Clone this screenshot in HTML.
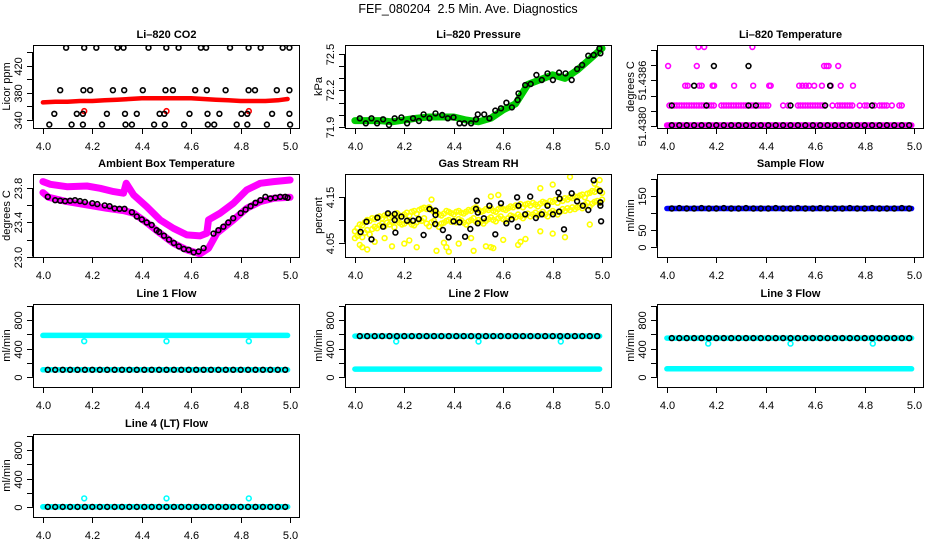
<!DOCTYPE html>
<html><head><meta charset="utf-8"><title>FEF_080204 Diagnostics</title>
<style>
html,body{margin:0;padding:0;background:#fff;}
svg{display:block;font-family:"Liberation Sans",Arial,sans-serif;}
</style></head>
<body>
<svg id="chart" width="936" height="540" viewBox="0 0 936 540" xmlns="http://www.w3.org/2000/svg">
<text x="468" y="13" text-anchor="middle" font-size="12.5">FEF_080204&#160; 2.5 Min. Ave. Diagnostics</text>
</svg>
<script>
// ---------- shared time categories ----------
var tCirc = [4.02,4.05,4.08,4.11,4.14,4.17,4.20,4.23,4.26,4.29,4.32,4.35,4.38,4.41,4.44,4.47,4.50,4.53,4.56,4.59,4.62,4.65,4.68,4.71,4.74,4.77,4.80,4.83,4.86,4.89,4.92,4.95,4.98];
var tBand = [4.00,4.99];
var tRH = [4.00,4.01,4.02,4.03,4.04,4.05,4.06,4.07,4.08,4.09,4.10,4.11,4.12,4.13,4.14,4.15,4.16,4.17,4.18,4.19,4.20,4.21,4.22,4.23,4.24,4.25,4.26,4.27,4.28,4.29,4.30,4.31,4.32,4.33,4.34,4.35,4.36,4.37,4.38,4.39,4.40,4.41,4.42,4.43,4.44,4.45,4.46,4.47,4.48,4.49,4.50,4.51,4.52,4.53,4.54,4.55,4.56,4.57,4.58,4.59,4.60,4.61,4.62,4.63,4.64,4.65,4.66,4.67,4.68,4.69,4.70,4.71,4.72,4.73,4.74,4.75,4.76,4.77,4.78,4.79,4.80,4.81,4.82,4.83,4.84,4.85,4.86,4.87,4.88,4.89,4.90,4.91,4.92,4.93,4.94,4.95,4.96,4.97,4.98,4.99,5.00];
var xTicks = [4.0,4.2,4.4,4.6,4.8,5.0];
var xTickLabels = ["4.0","4.2","4.4","4.6","4.8","5.0"];

// ---------- CO2 ----------
var co2RedX = [4.00,4.05,4.10,4.15,4.20,4.25,4.30,4.35,4.40,4.45,4.50,4.55,4.60,4.65,4.70,4.75,4.80,4.85,4.90,4.95,4.99];
var co2RedY = [366,367,367,368,368,369,370,371,372,372,372,372,372,371,370,369,368,368,368,369,371];
var co2RedOutX = [4.167,4.50,4.833];
var co2RedOutY = [353,353,353];
var co2BlackX = [4.094,4.167,4.216,4.302,4.326,4.427,4.499,4.549,4.639,4.660,4.757,4.832,4.881,4.970,4.997,
  4.070,4.164,4.191,4.283,4.329,4.404,4.496,4.526,4.616,4.663,4.739,4.832,4.858,4.946,4.997,
  4.046,4.137,4.162,4.259,4.332,4.380,4.472,4.491,4.593,4.666,4.714,4.803,4.827,4.927,4.997,
  4.026,4.116,4.162,4.239,4.334,4.360,4.450,4.493,4.571,4.667,4.693,4.784,4.827,4.906,5.000];
var co2BlackY = [447,447,447,447,447,447,447,447,447,447,447,447,447,447,447,
  384,384,384,384,384,384,384,384,384,384,384,384,384,384,384,
  349,349,349,349,349,349,349,349,349,349,349,349,349,349,349,
  333,333,333,333,333,333,333,333,333,333,333,333,333,333,333];

// ---------- Pressure ----------
var presGreenX = [4.00,4.05,4.10,4.15,4.20,4.25,4.30,4.35,4.40,4.45,4.50,4.55,4.60,4.65,4.70,4.75,4.80,4.85,4.90,4.95,5.00];
var presGreenY = [71.95,71.95,71.95,71.94,71.955,71.97,71.98,71.98,71.98,71.955,71.94,71.97,72.04,72.09,72.25,72.29,72.33,72.30,72.37,72.46,72.55];
var presBlackX = [4.020,4.044,4.067,4.090,4.114,4.138,4.161,4.188,4.211,4.235,4.259,4.278,4.302,4.326,4.353,4.376,4.399,4.423,4.443,4.470,4.490,4.497,4.523,4.544,4.568,4.591,4.613,4.635,4.658,4.662,4.689,4.711,4.734,4.756,4.779,4.801,4.826,4.852,4.877,4.899,4.919,4.944,4.966,4.989,4.993];
var presBlackY = [71.969,71.928,71.969,71.928,71.961,71.914,71.969,71.977,71.928,71.969,71.947,72.002,71.969,72.010,71.997,71.969,71.977,71.928,71.928,71.928,71.961,72.002,72.002,71.969,72.033,72.052,72.099,72.060,72.121,72.176,72.245,72.254,72.328,72.287,72.342,72.287,72.348,72.342,72.287,72.378,72.411,72.488,72.494,72.549,72.508];

// ---------- Li-820 Temperature ----------
var tempLevels = [51.43801,51.43827,51.43853,51.43879,51.43904];
var tempMagL1X = [4.01,4.02,4.03,4.04,4.05,4.06,4.07,4.08,4.09,4.10,4.11,4.12,4.13,4.14,4.15,4.16,4.17,4.18,4.19,4.22,4.23,4.24,4.25,4.26,4.27,4.28,4.29,4.30,4.31,4.32,4.33,4.34,4.35,4.36,4.37,4.38,4.39,4.40,4.41,4.47,4.49,4.53,4.54,4.55,4.56,4.57,4.58,4.59,4.60,4.61,4.62,4.63,4.64,4.67,4.69,4.70,4.71,4.72,4.73,4.74,4.75,4.78,4.80,4.81,4.83,4.84,4.86,4.87,4.88,4.89,4.91,4.94,4.95];
var tempMagL2X = [4.074,4.084,4.131,4.141,4.185,4.191,4.272,4.349,4.414,4.420,4.535,4.548,4.562,4.575,4.596,4.627,4.663,4.703,4.753];
var tempMagL3X = [4.005,4.121,4.636,4.646,4.654,4.693];
var tempMagL4X = [4.128,4.151,4.346];
var tempBlkL1X = [4.02,4.16,4.33,4.36,4.50,4.64,4.83];
var tempBlkL2X = [4.11,4.66];
var tempBlkL3X = [4.19,4.33];

// ---------- Ambient Box Temperature ----------
var ambUpX = [4.0,4.03,4.097,4.178,4.232,4.286,4.326,4.337,4.367,4.420,4.474,4.528,4.582,4.636,4.663,4.670,4.717,4.771,4.825,4.879,4.933,5.0];
var ambUpY = [23.878,23.847,23.819,23.827,23.80,23.761,23.742,23.858,23.722,23.586,23.430,23.332,23.254,23.243,23.274,23.430,23.508,23.625,23.781,23.858,23.878,23.897];
var ambLoX = [4.0,4.023,4.097,4.178,4.259,4.326,4.367,4.420,4.474,4.528,4.582,4.636,4.670,4.704,4.771,4.825,4.879,4.933,5.0];
var ambLoY = [23.749,23.695,23.644,23.605,23.566,23.539,23.508,23.398,23.274,23.157,23.079,23.032,23.098,23.274,23.430,23.566,23.644,23.683,23.695];
var ambBlkX = [4.02,4.05,4.07,4.09,4.11,4.13,4.15,4.17,4.20,4.22,4.25,4.27,4.29,4.31,4.33,4.36,4.38,4.40,4.42,4.44,4.46,4.47,4.49,4.51,4.53,4.55,4.57,4.59,4.61,4.63,4.65,4.69,4.71,4.73,4.75,4.77,4.80,4.82,4.84,4.86,4.88,4.90,4.92,4.94,4.96,4.98,4.99];
var ambBlkY = [23.70,23.66,23.655,23.65,23.655,23.66,23.65,23.64,23.625,23.615,23.60,23.59,23.565,23.56,23.56,23.52,23.47,23.435,23.40,23.37,23.31,23.29,23.245,23.20,23.16,23.12,23.09,23.08,23.05,23.06,23.10,23.27,23.31,23.35,23.40,23.45,23.51,23.55,23.59,23.63,23.66,23.70,23.68,23.69,23.70,23.70,23.69];

// ---------- Gas Stream RH ----------
var rhYellowA = [4.075,4.082,4.090,4.088,4.095,4.100,4.098,4.104,4.102,4.106,4.108,4.104,4.110,4.112,4.106,4.109,4.112,4.115,4.110,4.108,4.112,4.116,4.110,4.118,4.120,4.114,4.122,4.125,4.127,4.124,4.128,4.122,4.118,4.116,4.112,4.110,4.114,4.120,4.118,4.115,4.112,4.118,4.120,4.116,4.114,4.118,4.122,4.120,4.125,4.128,4.122,4.118,4.120,4.124,4.122,4.126,4.120,4.118,4.124,4.128,4.124,4.122,4.126,4.130,4.128,4.132,4.130,4.135,4.128,4.134,4.136,4.132,4.138,4.134,4.130,4.136,4.140,4.138,4.134,4.142,4.140,4.144,4.138,4.146,4.142,4.148,4.145,4.150,4.148,4.152,4.150,4.154,4.156,4.150,4.158,4.160,4.164,4.162,4.168,4.166,4.160];
var rhYellowB = [4.060,4.065,4.070,4.062,4.072,4.078,4.068,4.080,4.085,4.082,4.088,4.092,4.086,4.094,4.090,4.096,4.084,4.098,4.094,4.090,4.092,4.098,4.096,4.090,4.088,4.095,4.100,4.098,4.104,4.092,4.086,4.095,4.098,4.090,4.085,4.092,4.094,4.098,4.100,4.096,4.098,4.095,4.102,4.099,4.094,4.090,4.097,4.100,4.104,4.096,4.100,4.096,4.092,4.098,4.102,4.106,4.100,4.097,4.104,4.108,4.102,4.098,4.104,4.110,4.108,4.106,4.112,4.108,4.104,4.110,4.114,4.108,4.112,4.116,4.110,4.114,4.118,4.112,4.108,4.116,4.120,4.116,4.112,4.118,4.124,4.120,4.126,4.122,4.128,4.124,4.128,4.132,4.126,4.134,4.138,4.130,4.136,4.140,4.142,4.138,4.145];
var rhOutX = [4.02,4.03,4.05,4.08,4.12,4.15,4.20,4.22,4.25,4.33,4.36,4.37,4.38,4.42,4.47,4.48,4.53,4.55,4.56,4.60,4.66,4.67,4.69,4.75,4.80,4.85,4.95,4.97,4.87,4.80,4.75,4.58,4.55,4.31,4.99];
var rhOutY = [4.045,4.040,4.035,4.052,4.060,4.042,4.048,4.055,4.040,4.032,4.050,4.040,4.030,4.048,4.060,4.032,4.042,4.040,4.038,4.056,4.045,4.052,4.058,4.075,4.070,4.062,4.090,4.180,4.195,4.178,4.170,4.155,4.152,4.145,4.188];
var rhBlkX = [4.023,4.047,4.067,4.091,4.114,4.134,4.161,4.161,4.164,4.188,4.211,4.235,4.258,4.278,4.302,4.325,4.326,4.326,4.356,4.379,4.399,4.423,4.446,4.467,4.490,4.493,4.497,4.497,4.522,4.544,4.568,4.591,4.613,4.634,4.656,4.659,4.662,4.689,4.709,4.732,4.756,4.779,4.801,4.823,4.826,4.828,4.846,4.877,4.899,4.922,4.944,4.966,4.991,4.993,4.993,4.996];
var rhBlkY = [4.0735,4.0963,4.0574,4.1051,4.0853,4.1147,4.1132,4.1000,4.0721,4.1074,4.0985,4.0985,4.1022,4.0669,4.1243,4.0912,4.1206,4.1110,4.0779,4.0618,4.0971,4.0949,4.0632,4.0801,4.1243,4.1426,4.1162,4.0926,4.1037,4.1316,4.0684,4.1368,4.0926,4.1015,4.1500,4.0853,4.1316,4.1125,4.1515,4.1044,4.1125,4.1316,4.1125,4.1603,4.1184,4.1471,4.0794,4.1588,4.1412,4.1316,4.1221,4.1875,4.1640,4.1390,4.1316,4.0971];

// ---------- Sample flow and line flows ----------
var sampleBlue = [113,113];
var sampleBlack = [113,114,113,113,114,113,113,114,113,113,114,113,113,113,114,113,113,114,113,113,114,113,113,113,114,113,113,114,113,113,113,114,113];
var flowCyanHigh = [586,576,547,2];
var flowCyanLow = [100,110,114,0];
var flowBlackLevel = [100,576,547,0];
var flowOutlier = [504,500,470,120];
var flowOutlierX = [4.167,4.50,4.833];

// ---------- drawing ----------
var svg = document.getElementById('chart');
var NS = 'http://www.w3.org/2000/svg';
var colLeft = [33,345,657], rowTop = [45,174,304,434], PW = 267, PH = 83;
function mk(tag, attrs, parent){ var e = document.createElementNS(NS, tag); for (var k in attrs) e.setAttribute(k, attrs[k]); (parent||svg).appendChild(e); return e; }

function makePanel(col,row,slug,title,ylab,lo,hi,yt,ytLab){
  var L = colLeft[col], T = rowTop[row];
  var g = mk('g',{});
  
  
  var p = {g:g, L:L, T:T,
    x:function(v){ return L + (v-3.96)/1.08*PW; },
    y:function(v){ return T + (hi-v)/(hi-lo)*PH; }};
  var tt = mk('text',{x:L+PW/2, y:T-7, 'text-anchor':'middle','font-size':11,'font-weight':'bold'}, g);
  tt.textContent = title;
  
  
  var xa = mk('g',{}, g);
  
  
  mk('line',{x1:p.x(4.0),x2:p.x(5.0),y1:T+PH+0.5,y2:T+PH+0.5,stroke:'#000'}, xa);
  for (var i=0;i<xTicks.length;i++){
    var xx = Math.round(p.x(xTicks[i]))+0.5;
    mk('line',{x1:xx,x2:xx,y1:T+PH,y2:T+PH+6,stroke:'#000'}, xa);
    var tl = mk('text',{x:xx,y:T+PH+22,'text-anchor':'middle','font-size':11}, xa);
    tl.textContent = xTickLabels[i];
  }
  var ya = mk('g',{}, g);
  
  
  mk('line',{x1:L-0.5,x2:L-0.5,y1:p.y(yt[0]),y2:p.y(yt[yt.length-1]),stroke:'#000'}, ya);
  for (var j=0;j<yt.length;j++){
    var yy = Math.round(p.y(yt[j]))+0.5;
    mk('line',{x1:L-6,x2:L,y1:yy,y2:yy,stroke:'#000'}, ya);
    if (ytLab[j]){
      var yl = mk('text',{x:0,y:0,'text-anchor':'middle','font-size':11,transform:'translate('+(L-11)+','+yy+') rotate(-90)'}, ya);
      yl.textContent = ytLab[j];
    }
  }
  var yti = mk('text',{x:0,y:0,'text-anchor':'middle','font-size':11,transform:'translate('+(L-23)+','+(T+PH/2)+') rotate(-90)'}, g);
  yti.textContent = ylab;
  
  
  p.marks = mk('g',{'clip-path':'url(#clip'+col+'_'+row+')'}, g);
  var cp = mk('clipPath',{id:'clip'+col+'_'+row}, g);
  mk('rect',{x:L,y:T,width:PW,height:PH}, cp);
  var box = mk('rect',{x:L+0.5,y:T+0.5,width:PW-1,height:PH,fill:'none',stroke:'#000'}, g);
  
  
  return p;
}
function band(p,xs,ys,color,w,name){
  var pts = [];
  for (var i=0;i<xs.length;i++) pts.push(p.x(xs[i]).toFixed(1)+','+p.y(ys[i]).toFixed(1));
  var pl = mk('polyline',{points:pts.join(' '),fill:'none',stroke:color,'stroke-width':w,'stroke-linejoin':'round','stroke-linecap':'round'}, p.marks);
  
  
}
function pts(p,xs,ys,color,name){
  var g = mk('g',{fill:'none',stroke:color,'stroke-width':1.6}, p.marks);
  
  
  for (var i=0;i<xs.length;i++){
    var c = mk('circle',{cx:p.x(xs[i]).toFixed(1),cy:p.y(ys[i]).toFixed(1),r:2.4}, g);
    
    
  }
}
function levelPts(p,xs,level,color,name){
  var ys = []; for (var i=0;i<xs.length;i++) ys.push(level);
  pts(p,xs,ys,color,name);
}

// CO2
var p1 = makePanel(0,0,'co2','Li–820 CO2','Licor ppm',328,451,[340,360,380,400,420,440],['340','','380','','420','']);
band(p1,co2RedX,co2RedY,'#ff0000',4.5,'co2-red-series');
pts(p1,co2RedOutX,co2RedOutY,'#ff0000','co2-red-outliers');
pts(p1,co2BlackX,co2BlackY,'#000','co2-black-series');

// Pressure
var p2 = makePanel(1,0,'pressure','Li–820 Pressure','kPa',71.889,72.577,[71.9,72.0,72.1,72.2,72.3,72.4,72.5],['71.9','','','72.2','','','72.5']);
band(p2,presGreenX,presGreenY,'#00cc00',7,'pressure-green-series');
pts(p2,presBlackX,presBlackY,'#000','pressure-black-series');

// Li-820 temperature
var p3 = makePanel(2,0,'li820-temp','Li–820 Temperature','degrees C',51.437973,51.439067,[51.4380,51.4382,51.4384,51.4386,51.4388,51.4390],['51.4380','','','51.4386','','']);
band(p3,tBand,[tempLevels[0],tempLevels[0]],'#ff00ff',6,'temp-magenta-base');
levelPts(p3,tempMagL1X,tempLevels[1],'#ff00ff','temp-magenta-level1');
levelPts(p3,tempMagL2X,tempLevels[2],'#ff00ff','temp-magenta-level2');
levelPts(p3,tempMagL3X,tempLevels[3],'#ff00ff','temp-magenta-level3');
levelPts(p3,tempMagL4X,tempLevels[4],'#ff00ff','temp-magenta-level4');
levelPts(p3,tCirc,tempLevels[0],'#000','temp-black-level0');
levelPts(p3,tempBlkL1X,tempLevels[1],'#000','temp-black-level1');
levelPts(p3,tempBlkL2X,tempLevels[2],'#000','temp-black-level2');
levelPts(p3,tempBlkL3X,tempLevels[3],'#000','temp-black-level3');

// Ambient
var p4 = makePanel(0,1,'ambient-temp','Ambient Box Temperature','degrees C',22.996,23.967,[23.0,23.2,23.4,23.6,23.8],['23.0','','23.4','','23.8']);
band(p4,ambUpX,ambUpY,'#ff00ff',7,'ambient-magenta-upper');
band(p4,ambLoX,ambLoY,'#ff00ff',7,'ambient-magenta-lower');
pts(p4,ambBlkX,ambBlkY,'#000','ambient-black-series');

// RH
var p5 = makePanel(1,1,'gas-rh','Gas Stream RH','percent',4.0184,4.2014,[4.05,4.10,4.15],['4.05','','4.15']);
pts(p5,tRH,rhYellowA,'#ffff00','rh-yellow-upper');
pts(p5,tRH,rhYellowB,'#ffff00','rh-yellow-lower');
pts(p5,rhOutX,rhOutY,'#ffff00','rh-yellow-scatter');
pts(p5,rhBlkX,rhBlkY,'#000','rh-black-series');

// Sample flow
var p6 = makePanel(2,1,'sample-flow','Sample Flow','ml/min',-30.5,215,[0,50,100,150,200],['0','50','','150','']);
band(p6,tBand,sampleBlue,'#0000ff',5.5,'sample-blue-series');
pts(p6,tCirc,sampleBlack,'#000','sample-black-series');

// Line flows
var flowTitles = ['Line 1 Flow','Line 2 Flow','Line 3 Flow','Line 4 (LT) Flow'];
var flowPos = [[0,2],[1,2],[2,2],[0,3]];
for (var f=0; f<4; f++){
  var slug = 'line' + (f+1) + '-flow';
  var pf = makePanel(flowPos[f][0],flowPos[f][1],slug,flowTitles[f],'ml/min',-143,1029,[0,200,400,600,800,1000],['0','','400','','800','']);
  band(pf,tBand,[flowCyanHigh[f],flowCyanHigh[f]],'#00ffff',5.5,slug+'-cyan-high');
  band(pf,tBand,[flowCyanLow[f],flowCyanLow[f]],'#00ffff',5.5,slug+'-cyan-low');
  levelPts(pf,flowOutlierX,flowOutlier[f],'#00ffff',slug+'-cyan-outliers');
  levelPts(pf,tCirc,flowBlackLevel[f],'#000',slug+'-black-series');
}
</script>
</body></html>
